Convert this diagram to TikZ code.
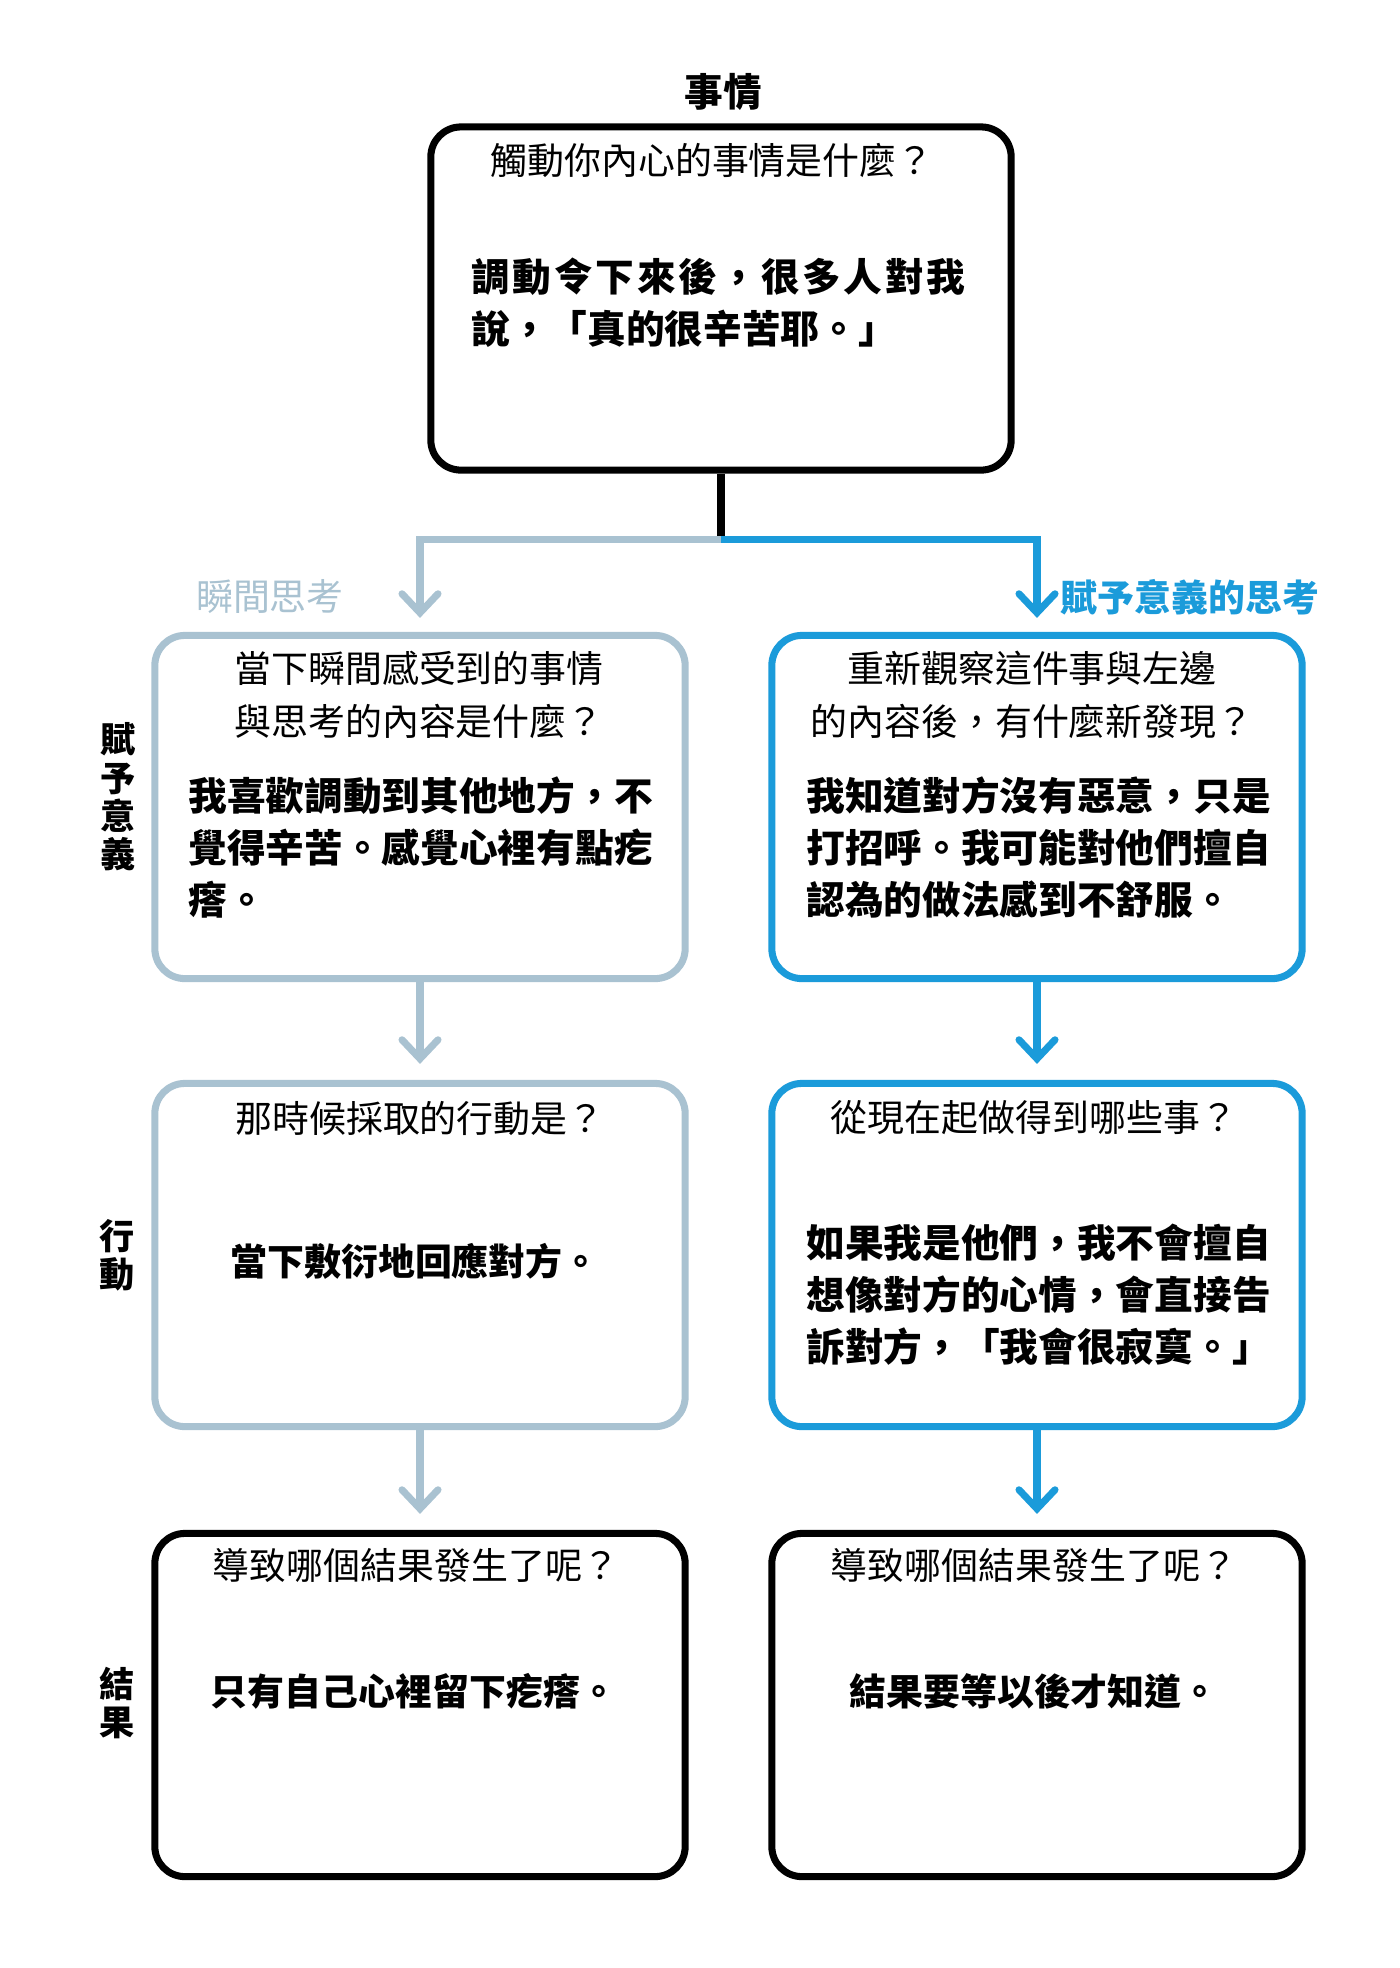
\documentclass[tikz,border=0pt]{standalone}
\usepackage{fontspec}
\setmainfont{Noto Sans CJK TC}
\usetikzlibrary{arrows.meta}

\definecolor{greyline}{HTML}{A9C2D1}
\definecolor{blueline}{HTML}{1B9BDA}

\begin{document}
\begin{tikzpicture}[x=0.01cm,y=-0.01cm,>={Straight Barb[length=1.9mm,width=3.6mm,line cap=round]},
  line width=2pt,
  box/.style={rectangle,rounded corners=0.3cm,draw,fill=white,inner sep=0pt,
    minimum width=5.30cm,minimum height=3.43cm},
  grey box/.style={box,draw=greyline},
  blue box/.style={box,draw=blueline},
  black box/.style={box,draw=black},
  question/.style={align=center,inner sep=0pt,font=\fontsize{10.5pt}{15pt}\selectfont},
  answer/.style={align=left,inner sep=0pt,font=\fontsize{11pt}{14.8pt}\selectfont\bfseries},
  short answer/.style={answer,font=\fontsize{10.5pt}{14.8pt}\selectfont\bfseries},
  side label/.style={align=center,inner sep=0pt,font=\fontsize{10pt}{10.9pt}\selectfont\bfseries},
  grey line/.style={draw=greyline,line width=2pt},
  blue line/.style={draw=blueline,line width=2pt}]

  \fill[white] (0,0) rectangle (1400,1968);
  \useasboundingbox (0,0) rectangle (1400,1968);

  % the event
  \node[font=\fontsize{11pt}{13pt}\selectfont\bfseries] (event) at (723,92) {事情};
  \node[black box,minimum width=5.80cm] (eventbox) at (721,298.5) {};
  \node[question] (eventq) at (712,161) {觸動你內心的事情是什麼？};
  \node[answer,anchor=north west] (eventa) at (468,254)
    {{\addfontfeature{LetterSpace=7}調動令下來後，很多人對我}\\說，「真的很辛苦耶。」};

  % branch labels
  \node[font=\fontsize{10.5pt}{12pt}\selectfont,text=greyline] (quicklabel) at (270,597) {瞬間思考};
  \node[font=\fontsize{10.5pt}{12pt}\selectfont\bfseries,text=blueline] (meanlabel) at (1190,597) {賦予意義的思考};

  % row labels
  \node[side label] (meanrow) at (118,797) {賦\\予\\意\\義};
  \node[side label] (actrow) at (117,1255) {行\\動};
  \node[side label] (resrow) at (117,1703) {結\\果};

  % first row
  \node[grey box] (quickbox) at (420,807) {};
  \node[question] (quickq) at (419,695) {當下瞬間感受到的事情\\與思考的內容是什麼？};
  \node[answer,anchor=north west] (quicka) at (185,773)
    {我喜歡調動到其他地方，不\\覺得辛苦。感覺心裡有點疙\\瘩。};

  \node[blue box] (meanbox) at (1037,807) {};
  \node[question] (meanq) at (1032,695) {重新觀察這件事與左邊\\的內容後，有什麼新發現？};
  \node[answer,anchor=north west] (meana) at (803,773)
    {我知道對方沒有惡意，只是\\打招呼。我可能對他們擅自\\認為的做法感到不舒服。};

  % second row
  \node[grey box] (quickactbox) at (420,1255) {};
  \node[question] (quickactq) at (420,1118) {那時候採取的行動是？};
  \node[short answer] (quickacta) at (415,1261) {當下敷衍地回應對方。};

  \node[blue box] (meanactbox) at (1037,1255) {};
  \node[question] (meanactq) at (1034,1118) {從現在起做得到哪些事？};
  \node[answer,anchor=north west] (meanacta) at (803,1220)
    {如果我是他們，我不會擅自\\想像對方的心情，會直接告\\訴對方，「我會很寂寞。」};

  % third row
  \node[black box] (quickresbox) at (420,1705) {};
  \node[question] (quickresq) at (416,1565) {導致哪個結果發生了呢？};
  \node[short answer] (quickresa) at (414,1691) {只有自己心裡留下疙瘩。};

  \node[black box] (meanresbox) at (1037,1705) {};
  \node[question] (meanresq) at (1034,1565) {導致哪個結果發生了呢？};
  \node[short answer] (meanresa) at (1034,1691) {結果要等以後才知道。};

  % connectors
  \coordinate (split) at (721,539);
  \coordinate (quickturn) at (420,539);
  \coordinate (meanturn) at (1037,539);

  \draw (eventbox.south) -- (split);
  \draw[grey line,->,shorten >=0.14cm] (split) -- (quickturn) -- (quickbox.north);
  \draw[blue line,->,shorten >=0.14cm] (split) -- (meanturn) -- (meanbox.north);

  \path[shorten >=0.16cm]
    (quickbox) edge[grey line,->] (quickactbox)
    (quickactbox) edge[grey line,->] (quickresbox)
    (meanbox) edge[blue line,->] (meanactbox)
    (meanactbox) edge[blue line,->] (meanresbox);

\end{tikzpicture}
\end{document}
